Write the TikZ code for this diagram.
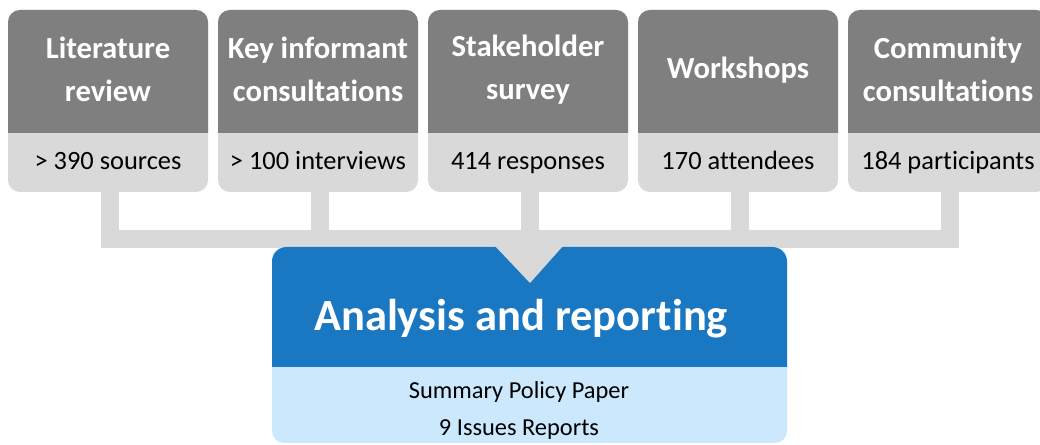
\documentclass[tikz,border=0pt]{standalone}
\usepackage{fontspec}
\setmainfont{Carlito}[RawFeature=-liga]
\definecolor{dkgray}{HTML}{7F7F7F}
\definecolor{ltgray}{HTML}{D9D9D9}
\definecolor{blueA}{HTML}{1A78C2}
\definecolor{ltblue}{HTML}{CCE8FC}
\tikzset{
  box/.style={draw=none, fill=ltgray, rounded corners=9pt, minimum width=150pt, minimum height=136.5pt, inner sep=0pt},
  ttl/.style={text=white, font=\fontsize{23}{32.25}\selectfont\bfseries, align=center, inner sep=0pt},
  sub/.style={text=black, font=\fontsize{19.8}{24}\selectfont, inner sep=0pt, text height=14pt, text depth=4pt},
  conn/.style={draw=ltgray, line width=13.5pt, line join=miter},
  abox/.style={draw=none, fill=ltblue, rounded corners=9pt, minimum width=386.25pt, minimum height=147pt, inner sep=0pt},
  attl/.style={text=white, font=\fontsize{33.4}{38}\selectfont\bfseries, inner sep=0pt},
  asub/.style={text=black, font=\fontsize{18.3}{27.75}\selectfont, align=center, inner sep=0pt}
}
\begin{document}
\begin{tikzpicture}[x=0.75pt,y=-0.75pt]
\useasboundingbox (0,0) rectangle (1040,445);
\clip (0,0) rectangle (1040,445);
\foreach \i/\cx/\ty/\t/\s in {1/108/69/{Literature\\review}/{> 390 sources},
  2/318/69/{Key informant\\consultations}/{> 100 interviews},
  3/528/70/{Stakeholder\\survey}/{414 responses},
  4/738/70/{Workshops}/{170 attendees},
  5/948/69/{Community\\consultations}/{184 participants}}{
  \node[box] (b\i) at (\cx,101) {};
  \coordinate (p\i) at ([xshift=1.5pt]b\i.south);
  \begin{scope}
    \clip (\cx-100,10) rectangle (\cx+100,133);
    \fill[dkgray, rounded corners=9pt] (\cx-100,10) rectangle (\cx+100,192);
  \end{scope}
  \node[ttl] (t\i) at (\cx,\ty) {\t};
  \node[sub] (s\i) at (\cx,163) {\s};
}
\coordinate (bar) at (0,239);
\draw[conn] (p1) |- (bar -| p5) -- (p5);
\foreach \i in {2,3,4}{
  \draw[conn] (p\i) -- (p\i |- bar);
}
\node[abox] (ar) at (529.5,345) {};
\begin{scope}
  \clip (272,247) rectangle (787,367);
  \fill[blueA, rounded corners=11pt] (272,247) rectangle (787,443);
\end{scope}
\fill[ltgray] (495,246) -- (563,246) -- (530,283) -- cycle;
\node[attl] (at) at (521,319) {Analysis and reporting};
\node[asub] (as) at (519,410) {Summary Policy Paper\\9 Issues Reports};
\end{tikzpicture}
\end{document}
